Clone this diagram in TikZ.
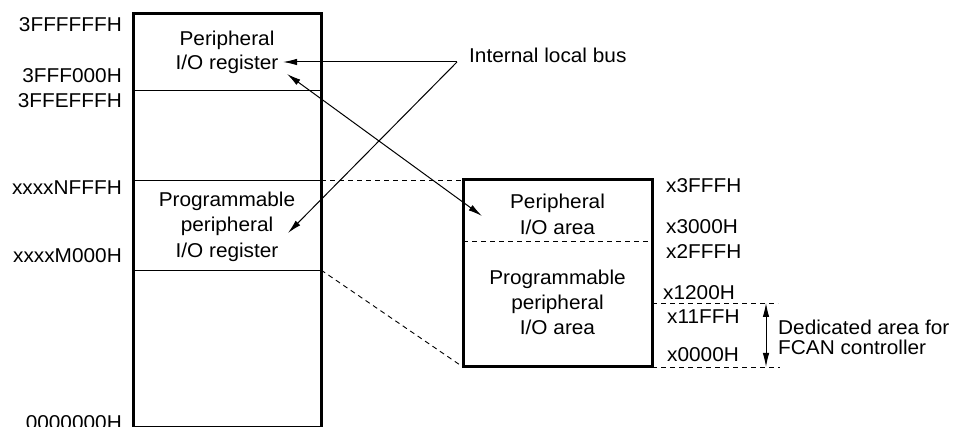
\documentclass[tikz,border=0pt]{standalone}
\usepackage{fontspec}
\setmainfont{Liberation Sans}[FakeStretch=1.04]
\usetikzlibrary{arrows.meta}
\begin{document}
\begin{tikzpicture}[x=1pt,y=-1pt,
  txt/.style={inner sep=0pt,font=\fontsize{20}{24}\selectfont},
  addr/.style={txt,anchor=base east},
  raddr/.style={txt,anchor=base west},
  ctr/.style={txt,anchor=base},
  frame/.style={line width=3pt},
  sep/.style={line width=0.9pt},
  guide/.style={line width=0.9pt,dash pattern=on 5pt off 4pt},
  tip/.tip={Latex[length=14pt,width=6.5pt]},
  conn/.style={line width=1pt,-tip},
  bothconn/.style={line width=1pt,tip-tip}]
\useasboundingbox (0,0) rectangle (953,427);

% memory map (left)
\coordinate (mTL) at (133,14);
\coordinate (m1L) at (133,90);  \coordinate (m1R) at (321,90);
\coordinate (m2L) at (133,180); \coordinate (m2R) at (321,180);
\coordinate (m3L) at (133,270); \coordinate (m3R) at (321,270);
\coordinate (m4L) at (133,426); \coordinate (m4R) at (321,426);
\draw[sep] (m1L) -- (m1R);
\draw[sep] (m2L) -- (m2R);
\draw[sep] (m3L) -- (m3R);
\draw[sep] (m4L) -- (m4R);
\draw[frame] ([yshift=-0.5pt]m4L) -- (mTL) -- (321,14) -- ([yshift=-0.5pt]m4R);

% address labels (left)
\node[addr] (a1) at (122,32)  {3FFFFFFH};
\node[addr] (a2) at (122,83)  {3FFF000H};
\node[addr] (a3) at (122,108) {3FFEFFFH};
\node[addr] (a4) at (122,195) {xxxxNFFFH};
\node[addr] (a5) at (122,263) {xxxxM000H};
\node[addr] (a6) at (122,429) {0000000H};

% region names (left)
\node[ctr] (pr1) at (227,46)  {Peripheral};
\node[ctr] (pr2) at (227,70)  {I/O register};
\node[ctr] (pp1) at (227,207) {Programmable};
\node[ctr] (pp2) at (227,232) {peripheral};
\node[ctr] (pp3) at (227,258) {I/O register};

% I/O area (right)
\coordinate (rTL) at (463,180);
\coordinate (rBL) at (463,367);
\coordinate (rBR) at (652,367);
\coordinate (rML) at (463,241); \coordinate (rMR) at (652,241);
\draw[guide] (rML) -- (rMR);
\draw[frame] (rTL) rectangle (rBR);
\node[ctr] (ra1) at (557.5,209) {Peripheral};
\node[ctr] (ra2) at (557.5,235) {I/O area};
\node[ctr] (rb1) at (557.5,285) {Programmable};
\node[ctr] (rb2) at (557.5,310) {peripheral};
\node[ctr] (rb3) at (557.5,335) {I/O area};

% mapping guides
\draw[guide] (m2R) -- (rTL);
\draw[guide] (m3R) -- (rBL);

% address labels (right)
\node[raddr] (b1) at (666,193) {x3FFFH};
\node[raddr] (b2) at (666,234) {x3000H};
\node[raddr] (b3) at (666,259) {x2FFFH};
\node[raddr] (b4) at (663,300) {x1200H};
\node[raddr] (b5) at (667,324) {x11FFH};
\node[raddr] (b6) at (667,362) {x0000H};

% FCAN range
\coordinate (f1L) at (652,303); \coordinate (f1R) at (778,303);
\coordinate (f2R) at (780,367);
\draw[guide] (f1L) -- (f1R);
\draw[guide] (rBR) -- (f2R);
\coordinate (fTop) at (766,303);
\coordinate (fBot) at (766,367);
\draw[bothconn] (fTop) -- (fBot);
\node[raddr] (fc1) at (778,335) {Dedicated area for};
\node[raddr] (fc2) at (778,355) {FCAN controller};

% internal local bus
\node[raddr] (bus) at (469,63) {Internal local bus};
\coordinate (busEnd) at (457,62);
\coordinate (tipPR) at (283,62);
\coordinate (tipPP) at (288,233);
\coordinate (dA) at (287,74);
\coordinate (dB) at (482,216);
\draw[conn] (busEnd) -- (tipPR);
\draw[conn] (busEnd) -- (tipPP);
\draw[bothconn] (dA) -- (dB);
\end{tikzpicture}
\end{document}
